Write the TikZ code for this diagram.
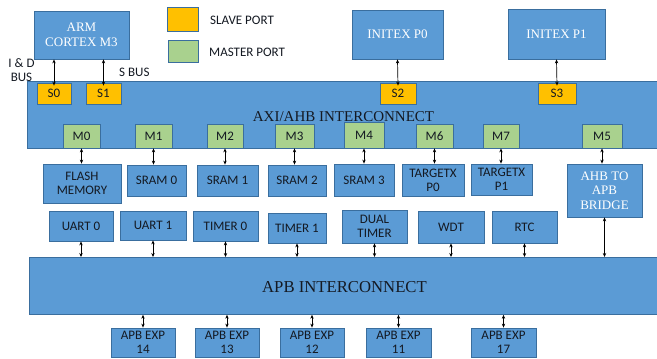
\documentclass[tikz,border=0pt]{standalone}
\usepackage{fontspec}
\setmainfont{Liberation Serif}
\newfontfamily\calib{Carlito}
\usetikzlibrary{arrows.meta}
\definecolor{boxblue}{HTML}{5B9BD5}
\definecolor{boxedge}{HTML}{3A6E9E}
\definecolor{slaveor}{HTML}{FFC000}
\definecolor{mastergr}{HTML}{A9D18E}
\definecolor{darktxt}{HTML}{141922}
\tikzset{
  base/.style={draw=boxedge, line width=0.8pt, rectangle, inner sep=0pt, align=center},
  bluesans/.style={base, fill=boxblue, text=darktxt, font=\calib\fontsize{13}{14}\selectfont},
  blueserif/.style={base, fill=boxblue, text=white, font=\fontsize{13}{14.5}\selectfont},
  slaveport/.style={base, fill=slaveor, text=darktxt, font=\calib\fontsize{13}{14}\selectfont, minimum height=21pt},
  masterport/.style={base, fill=mastergr, text=darktxt, font=\calib\fontsize{13}{14}\selectfont, minimum height=24pt},
  plainlbl/.style={inner sep=0pt, text=darktxt, font=\calib\fontsize{13}{14}\selectfont, align=center},
  biarrow/.style={line width=0.7pt, {Stealth[length=4pt,width=3.4pt]}-{Stealth[length=4pt,width=3.4pt]}},
}
\begin{document}
\begin{tikzpicture}[x=1pt,y=-1pt]
\clip (0,0) rectangle (657,359);
\fill[white] (0,0) rectangle (657,359);
% top masters
\node[blueserif, minimum width=95pt, minimum height=48pt] (arm) at (81.5,35) {ARM\\CORTEX M3};
\node[blueserif, minimum width=91pt, minimum height=49pt] (ip0) at (397.5,34.5) {INITEX P0};
\node[blueserif, minimum width=97pt, minimum height=50pt] (ip1) at (556.5,34) {INITEX P1};
% legend
\node[base, fill=slaveor, minimum width=31pt, minimum height=24pt] (legs) at (182.5,19) {};
\node[base, fill=mastergr, minimum width=30pt, minimum height=22pt] (legm) at (183,51) {};
\node[plainlbl, anchor=west] (legst) at (210,20) {SLAVE PORT};
\node[plainlbl, anchor=west] (legmt) at (209,52) {MASTER PORT};
% bus labels
\node[plainlbl] (idbus) at (21.5,70) {I \& D\\BUS};
\node[plainlbl, anchor=west] (sbus) at (119,72) {S BUS};
% AXI interconnect
\node[base, fill=boxblue, minimum width=653pt, minimum height=67pt, anchor=north west] (axi) at (27,81) {};
\node[inner sep=0pt, text=darktxt, font=\fontsize{15}{16}\selectfont] (axit) at (343.5,117) {AXI/AHB INTERCONNECT};
% slave ports
\node[slaveport, minimum width=34pt] (s0) at (54,93.5) {S0};
\node[slaveport, minimum width=35pt] (s1) at (103.5,93.5) {S1};
\node[slaveport, minimum width=36pt] (s2) at (398,93.5) {S2};
\node[slaveport, minimum width=38pt] (s3) at (557,93.5) {S3};
% master ports
\node[masterport, minimum width=37pt] (m0) at (81.5,136) {M0};
\node[masterport, minimum width=37pt] (m1) at (153.5,136) {M1};
\node[masterport, minimum width=36pt] (m2) at (225,136) {M2};
\node[masterport, minimum width=39pt] (m3) at (294.5,136) {M3};
\node[masterport, minimum width=40pt, minimum height=26pt] (m4) at (364,135) {M4};
\node[masterport, minimum width=37pt] (m6) at (434.5,136) {M6};
\node[masterport, minimum width=36pt] (m7) at (501,136) {M7};
\node[masterport, minimum width=40pt] (m5) at (602,136) {M5};
% memory row
\node[bluesans, minimum width=78pt, minimum height=39pt] (flash) at (82,183.5) {FLASH\\MEMORY};
\node[bluesans, minimum width=59pt, minimum height=31pt] (sram0) at (156.5,180.5) {SRAM 0};
\node[bluesans, minimum width=61pt, minimum height=31pt] (sram1) at (227.5,180.5) {SRAM 1};
\node[bluesans, minimum width=58pt, minimum height=31pt] (sram2) at (297,180.5) {SRAM 2};
\node[bluesans, minimum width=60pt, minimum height=32pt] (sram3) at (364,180) {SRAM 3};
\node[bluesans, minimum width=62pt, minimum height=32pt] (tx0) at (433,180) {TARGETX\\P0};
\node[bluesans, minimum width=61pt, minimum height=31pt] (tx1) at (501.5,179.5) {TARGETX\\P1};
\node[blueserif, minimum width=75pt, minimum height=53pt] (bridge) at (604.5,190.5) {AHB TO\\APB\\BRIDGE};
% peripheral row
\node[bluesans, minimum width=64pt, minimum height=30pt] (uart0) at (81,226) {UART 0};
\node[bluesans, minimum width=66pt, minimum height=29pt] (uart1) at (153,225.5) {UART 1};
\node[bluesans, minimum width=65pt, minimum height=30pt] (tim0) at (225.5,226) {TIMER 0};
\node[bluesans, minimum width=58pt, minimum height=30pt] (tim1) at (297,228) {TIMER 1};
\node[bluesans, minimum width=65pt, minimum height=33pt] (dual) at (374.5,226.5) {DUAL\\TIMER};
\node[bluesans, minimum width=66pt, minimum height=32pt] (wdt) at (451,227) {WDT};
\node[bluesans, minimum width=65pt, minimum height=32pt] (rtc) at (524.5,227) {RTC};
% APB interconnect
\node[base, fill=boxblue, minimum width=651pt, minimum height=57pt, anchor=north west] (apb) at (29,257) {};
\node[inner sep=0pt, text=darktxt, font=\fontsize{16.7}{18}\selectfont] (apbt) at (344.5,287) {APB INTERCONNECT};
% expansion ports
\node[bluesans, minimum width=64pt, minimum height=29pt] (e14) at (143,342.5) {APB EXP\\14};
\node[bluesans, minimum width=64pt, minimum height=29pt] (e13) at (227,342.5) {APB EXP\\13};
\node[bluesans, minimum width=64pt, minimum height=29pt] (e12) at (312,342.5) {APB EXP\\12};
\node[bluesans, minimum width=65pt, minimum height=29pt] (e11) at (398.5,342.5) {APB EXP\\11};
\node[bluesans, minimum width=65pt, minimum height=29pt] (e17) at (503.5,342.5) {APB EXP\\17};
% connectors: masters to slave ports
\draw[biarrow] (s0.north |- arm.south) -- ([yshift=-3pt]s0.north);
\draw[biarrow] (s1.north |- arm.south) -- ([yshift=-3pt]s1.north);
\draw[biarrow] (ip0.south) -- ([yshift=-3pt]s2.north);
\draw[biarrow] (ip1.south) -- ([yshift=-3pt]s3.north);
% master ports to memories
\draw[biarrow] (m0.south) -- (flash.north -| m0.south);
\draw[biarrow] (m1.south) -- (sram0.north -| m1.south);
\draw[biarrow] (m2.south) -- (sram1.north -| m2.south);
\draw[biarrow] (m3.south) -- (sram2.north -| m3.south);
\draw[biarrow] (m4.south) -- (sram3.north -| m4.south);
\draw[biarrow] (m6.south) -- (tx0.north -| m6.south);
\draw[biarrow] (m7.south) -- (tx1.north -| m7.south);
\draw[biarrow] (m5.south) -- (bridge.north -| m5.south);
% peripherals to APB
\draw[biarrow] (uart0.south) -- (apb.north -| uart0.south);
\draw[biarrow] (uart1.south) -- (apb.north -| uart1.south);
\draw[biarrow] (tim0.south) -- (apb.north -| tim0.south);
\draw[biarrow] (tim1.south) -- (apb.north -| tim1.south);
\draw[biarrow] (dual.south) -- (apb.north -| dual.south);
\draw[biarrow] (wdt.south) -- (apb.north -| wdt.south);
\draw[biarrow] (rtc.south) -- (apb.north -| rtc.south);
\draw[biarrow] (bridge.south) -- (apb.north -| bridge.south);
% APB to expansion
\draw[biarrow] (apb.south -| e14.north) -- (e14.north);
\draw[biarrow] (apb.south -| e13.north) -- (e13.north);
\draw[biarrow] (apb.south -| e12.north) -- (e12.north);
\draw[biarrow] (apb.south -| e11.north) -- (e11.north);
\draw[biarrow] (apb.south -| e17.north) -- (e17.north);
\end{tikzpicture}
\end{document}
